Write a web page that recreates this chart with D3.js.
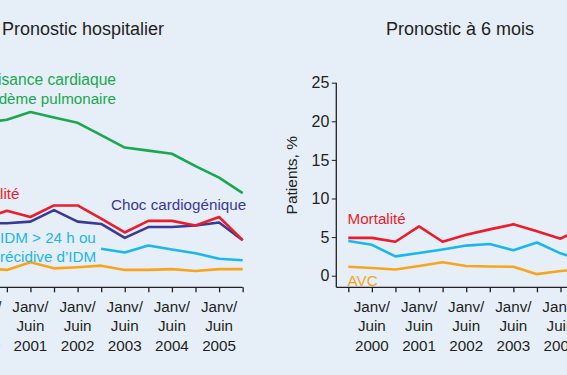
<!DOCTYPE html>
<html>
<head>
<meta charset="utf-8">
<script src="https://cdn.jsdelivr.net/npm/d3@7/dist/d3.min.js"></script>
<style>
  html, body { margin: 0; padding: 0; background: #e6eef8; }
  svg { display: block; }
  text { font-family: "Liberation Sans", Arial, Helvetica, sans-serif; fill: #231f20; }
</style>
</head>
<body>
<svg id="chart" width="567" height="375"></svg>
<script>
// ---- Data ----
const periods = ["Juil/Déc 1999", "Janv/Juin 2000", "Juil/Déc 2000", "Janv/Juin 2001", "Juil/Déc 2001",
  "Janv/Juin 2002", "Juil/Déc 2002", "Janv/Juin 2003", "Juil/Déc 2003", "Janv/Juin 2004",
  "Juil/Déc 2004", "Janv/Juin 2005", "Juil/Déc 2005"];
const tickLabelLines = ["Janv/", "Juin"];
const yTicks = [0, 5, 10, 15, 20, 25];

// Pronostic hospitalier (%)
const hospInsuffisance = [19.0, 19.8, 20.2, 21.2, 20.5, 19.8, 18.2, 16.6, 16.2, 15.8, 14.2, 12.7, 10.7];
const hospChoc        = [6.5, 6.8, 6.8, 7.0, 8.5, 7.0, 6.7, 4.9, 6.3, 6.3, 6.5, 6.9, 4.6];
const hospMortalite   = [7.0, 7.4, 8.4, 7.6, 9.1, 9.1, 7.4, 5.6, 7.1, 7.1, 6.5, 7.6, 4.6];
const hospIDM         = [null, null, null, null, null, null, 3.5, 3.0, 3.9, 3.4, 2.9, 2.2, 2.0];
const hospAVC         = [1.0, 1.0, 0.75, 1.75, 0.95, 1.1, 1.3, 0.75, 0.75, 0.85, 0.6, 0.85, 0.85];

// Pronostic à 6 mois (%)
const sixMortalite = [4.9, 4.9, 4.4, 6.4, 4.4, 5.3, 6.0, 6.65, 5.75, 4.8, 6.3, 5.8, 5.5];
const sixIDM       = [4.5, 4.0, 2.5, 2.95, 3.4, 3.9, 4.1, 3.3, 4.3, 2.9, 1.9, 2.2, 2.4];
const sixAVC       = [1.15, 1.0, 0.8, 1.25, 1.75, 1.25, 1.2, 1.15, 0.2, 0.6, 0.9, 1.0, 0.9];

const colors = {
  green: "#19a84f", red: "#ec1c2a", navy: "#3a3996", cyan: "#1ab7ee", orange: "#f7a51d", text: "#231f20"
};

// ---- Layout ----
const svg = d3.select("#chart");
svg.append("rect").attr("width", 567).attr("height", 375).attr("fill", "#e6eef8");

const y = d3.scaleLinear().domain([0, 25]).range([275.7, 82.7]);
const axisY = 287.3;
const step = 23.58;

function panel(cfg) {
  const g = svg.append("g");
  const x = d3.scalePoint().domain(periods)
    .range([cfg.firstTick, cfg.firstTick + step * (periods.length - 1)]);
  const yAxisX = cfg.firstTick - 12;

  // y axis
  const ya = g.append("g").attr("transform", `translate(${yAxisX},0)`)
    .call(d3.axisLeft(y).tickValues(yTicks).tickSize(4.5).tickPadding(2.5));
  ya.select(".domain").remove();
  ya.selectAll("line").attr("stroke", colors.text).attr("stroke-width", 1);
  ya.selectAll("text").attr("font-size", 16).attr("fill", colors.text)
    .style("font-family", '"Liberation Sans", Arial, sans-serif');
  g.append("line").attr("x1", yAxisX).attr("x2", yAxisX)
    .attr("y1", y(25)).attr("y2", axisY).attr("stroke", colors.text).attr("stroke-width", 1.3);

  // x axis
  const xa = g.append("g").attr("transform", `translate(0,${axisY})`)
    .call(d3.axisBottom(x).tickSize(5).tickSizeOuter(0).tickFormat(""));
  xa.select(".domain").remove();
  xa.selectAll("line").attr("stroke", colors.text).attr("stroke-width", 1.3);
  g.append("line").attr("x1", yAxisX).attr("x2", x(periods[periods.length - 1]))
    .attr("y1", axisY).attr("y2", axisY).attr("stroke", colors.text).attr("stroke-width", 1.3);

  const labelled = periods.filter(p => p.startsWith("Janv"));
  const tl = g.selectAll("text.xl").data(labelled).enter().append("text")
    .attr("class", "xl").attr("text-anchor", "middle").attr("font-size", 15.2);
  tl.each(function (p) {
    const t = d3.select(this);
    const lines = tickLabelLines.concat([p.split(" ")[1]]);
    lines.forEach((s, i) => {
      t.append("tspan").attr("x", x(p)).attr("y", 311.7 + i * 19.5).text(s);
    });
  });

  // y title
  g.append("text").attr("transform", `translate(${yAxisX - 39},${(y(25) + y(0)) / 2 - 4}) rotate(-90)`)
    .attr("text-anchor", "middle").attr("font-size", 15.5).text("Patients, %");

  // title
  g.append("text").attr("x", cfg.titleX).attr("y", 35).attr("text-anchor", cfg.titleAnchor)
    .attr("font-size", 18).text(cfg.title);

  // lines
  const line = d3.line().defined(d => d != null)
    .x((d, i) => x(periods[i])).y(d => y(d));
  cfg.series.forEach(s => {
    g.append("path").datum(s.values).attr("fill", "none").attr("stroke", s.color)
      .attr("stroke-width", 2.6).attr("stroke-linejoin", "round").attr("d", line);
  });

  // labels
  cfg.labels.forEach(l => {
    const t = g.append("text").attr("x", l.x).attr("y", l.y).attr("fill", l.color)
      .style("fill", l.color).attr("font-size", 15.2).attr("text-anchor", l.anchor || "start");
    l.text.forEach((s, i) => t.append("tspan").attr("x", l.x).attr("y", l.y + i * 19.3)
      .attr("font-size", l.sizes ? l.sizes[i] : 15.2).text(s));
  });
}

panel({
  firstTick: -40.3,
  title: "Pronostic hospitalier", titleX: 2, titleAnchor: "start",
  series: [
    { values: hospInsuffisance, color: colors.green },
    { values: hospAVC, color: colors.orange },
    { values: hospIDM, color: colors.cyan },
    { values: hospChoc, color: colors.navy },
    { values: hospMortalite, color: colors.red }
  ],
  labels: [
    { text: ["Insuffisance cardiaque", "ou œdème pulmonaire"], x: 116, y: 85, color: colors.green, anchor: "end", sizes: [15.6, 15.2] },
    { text: ["Mortalité"], x: 19.5, y: 198.5, color: colors.red, anchor: "end" },
    { text: ["Choc cardiogénique"], x: 111, y: 210, color: colors.navy },
    { text: ["IDM > 24 h ou", "récidive d’IDM"], x: 0, y: 243, color: colors.cyan }
  ]
});

panel({
  firstTick: 348.3,
  title: "Pronostic à 6 mois", titleX: 460, titleAnchor: "middle",
  series: [
    { values: sixAVC, color: colors.orange },
    { values: sixIDM, color: colors.cyan },
    { values: sixMortalite, color: colors.red }
  ],
  labels: [
    { text: ["Mortalité"], x: 347.5, y: 224, color: colors.red },
    { text: ["AVC"], x: 347.5, y: 285.5, color: colors.orange }
  ]
});
</script>
</body>
</html>
